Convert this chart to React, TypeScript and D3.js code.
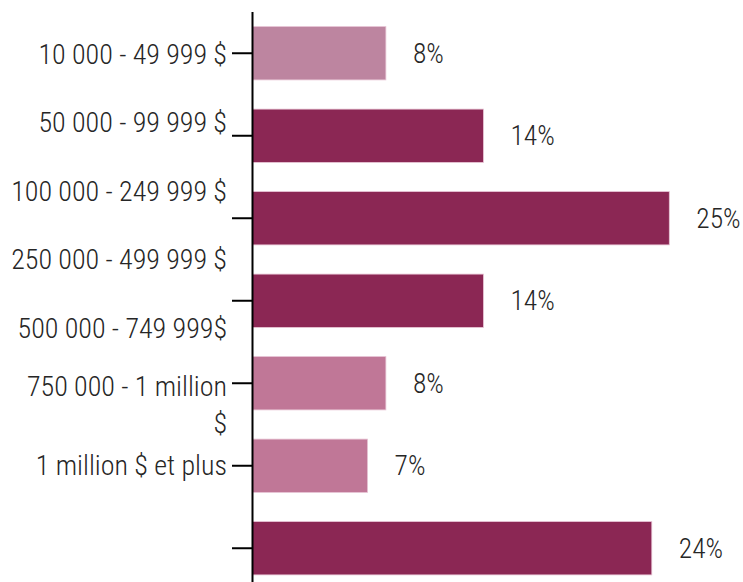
import React from "react";
import * as d3 from "d3";

const categories = ["c1", "c2", "c3", "c4", "c5", "c6", "c7"];
const values = [8, 13.85, 25, 13.85, 8, 6.9, 23.95];
const tickLabels = [
  "10 000 - 49 999 $",
  "50 000 - 99 999 $",
  "100 000 - 249 999 $",
  "250 000 - 499 999 $",
  "500 000 - 749 999$",
  "750 000 - 1 million\n$",
  "1 million $ et plus",
];
const barColors = ["#bd85a0", "#8b2754", "#8b2754", "#8b2754", "#c07797", "#c07797", "#8b2754"];

const W = 743;
const H = 582;
const FONT = "'Roboto Condensed', Roboto, sans-serif";

export default function App() {
  const axisX = 252.5;
  const x = d3.scaleLinear().domain([0, 25]).range([axisX, 669.3]);
  const y = d3
    .scaleBand<string>()
    .domain(categories)
    .range([12, 589.5])
    .paddingInner(0.354)
    .paddingOuter(0.177);
  const ly = d3.scalePoint<number>().domain(d3.range(tickLabels.length)).range([54, 465]);
  const lineH = 37;

  return (
    <svg
      width={W}
      height={H}
      style={{ position: "absolute", left: 0, top: 0, background: "#fff" }}
      fontFamily={FONT}
      fontWeight={300}
    >
      {categories.map((c, i) => (
        <rect
          key={c}
          x={x(0)}
          y={y(c)}
          width={x(values[i]) - x(0)}
          height={y.bandwidth()}
          fill={barColors[i]}
          stroke="#e7c3d4"
          strokeWidth={0.8}
        />
      ))}
      {categories.map((c, i) => (
        <text
          key={"v" + c}
          x={x(values[i]) + 27}
          y={(y(c) as number) + y.bandwidth() / 2}
          dy="0.35em"
          fontSize={27.5}
          fill="#262626"
        >
          {Math.round(values[i]) + "%"}
        </text>
      ))}
      <line x1={axisX} x2={axisX} y1={12} y2={H} stroke="#000" strokeWidth={2} />
      {categories.map((c) => {
        const cy = (y(c) as number) + y.bandwidth() / 2;
        return <line key={"t" + c} x1={232} x2={axisX} y1={cy} y2={cy} stroke="#000" strokeWidth={2} />;
      })}
      {tickLabels.map((lab, i) => {
        const lines = lab.split("\n");
        const base = (ly(i) as number) - (lines.length > 1 ? 10 : 0);
        return (
          <text key={"l" + i} textAnchor="end" fontSize={28} fill="#262626">
            {lines.map((ln, j) => (
              <tspan key={j} x={227} y={base + j * lineH} dy="0.35em">
                {ln}
              </tspan>
            ))}
          </text>
        );
      })}
    </svg>
  );
}
